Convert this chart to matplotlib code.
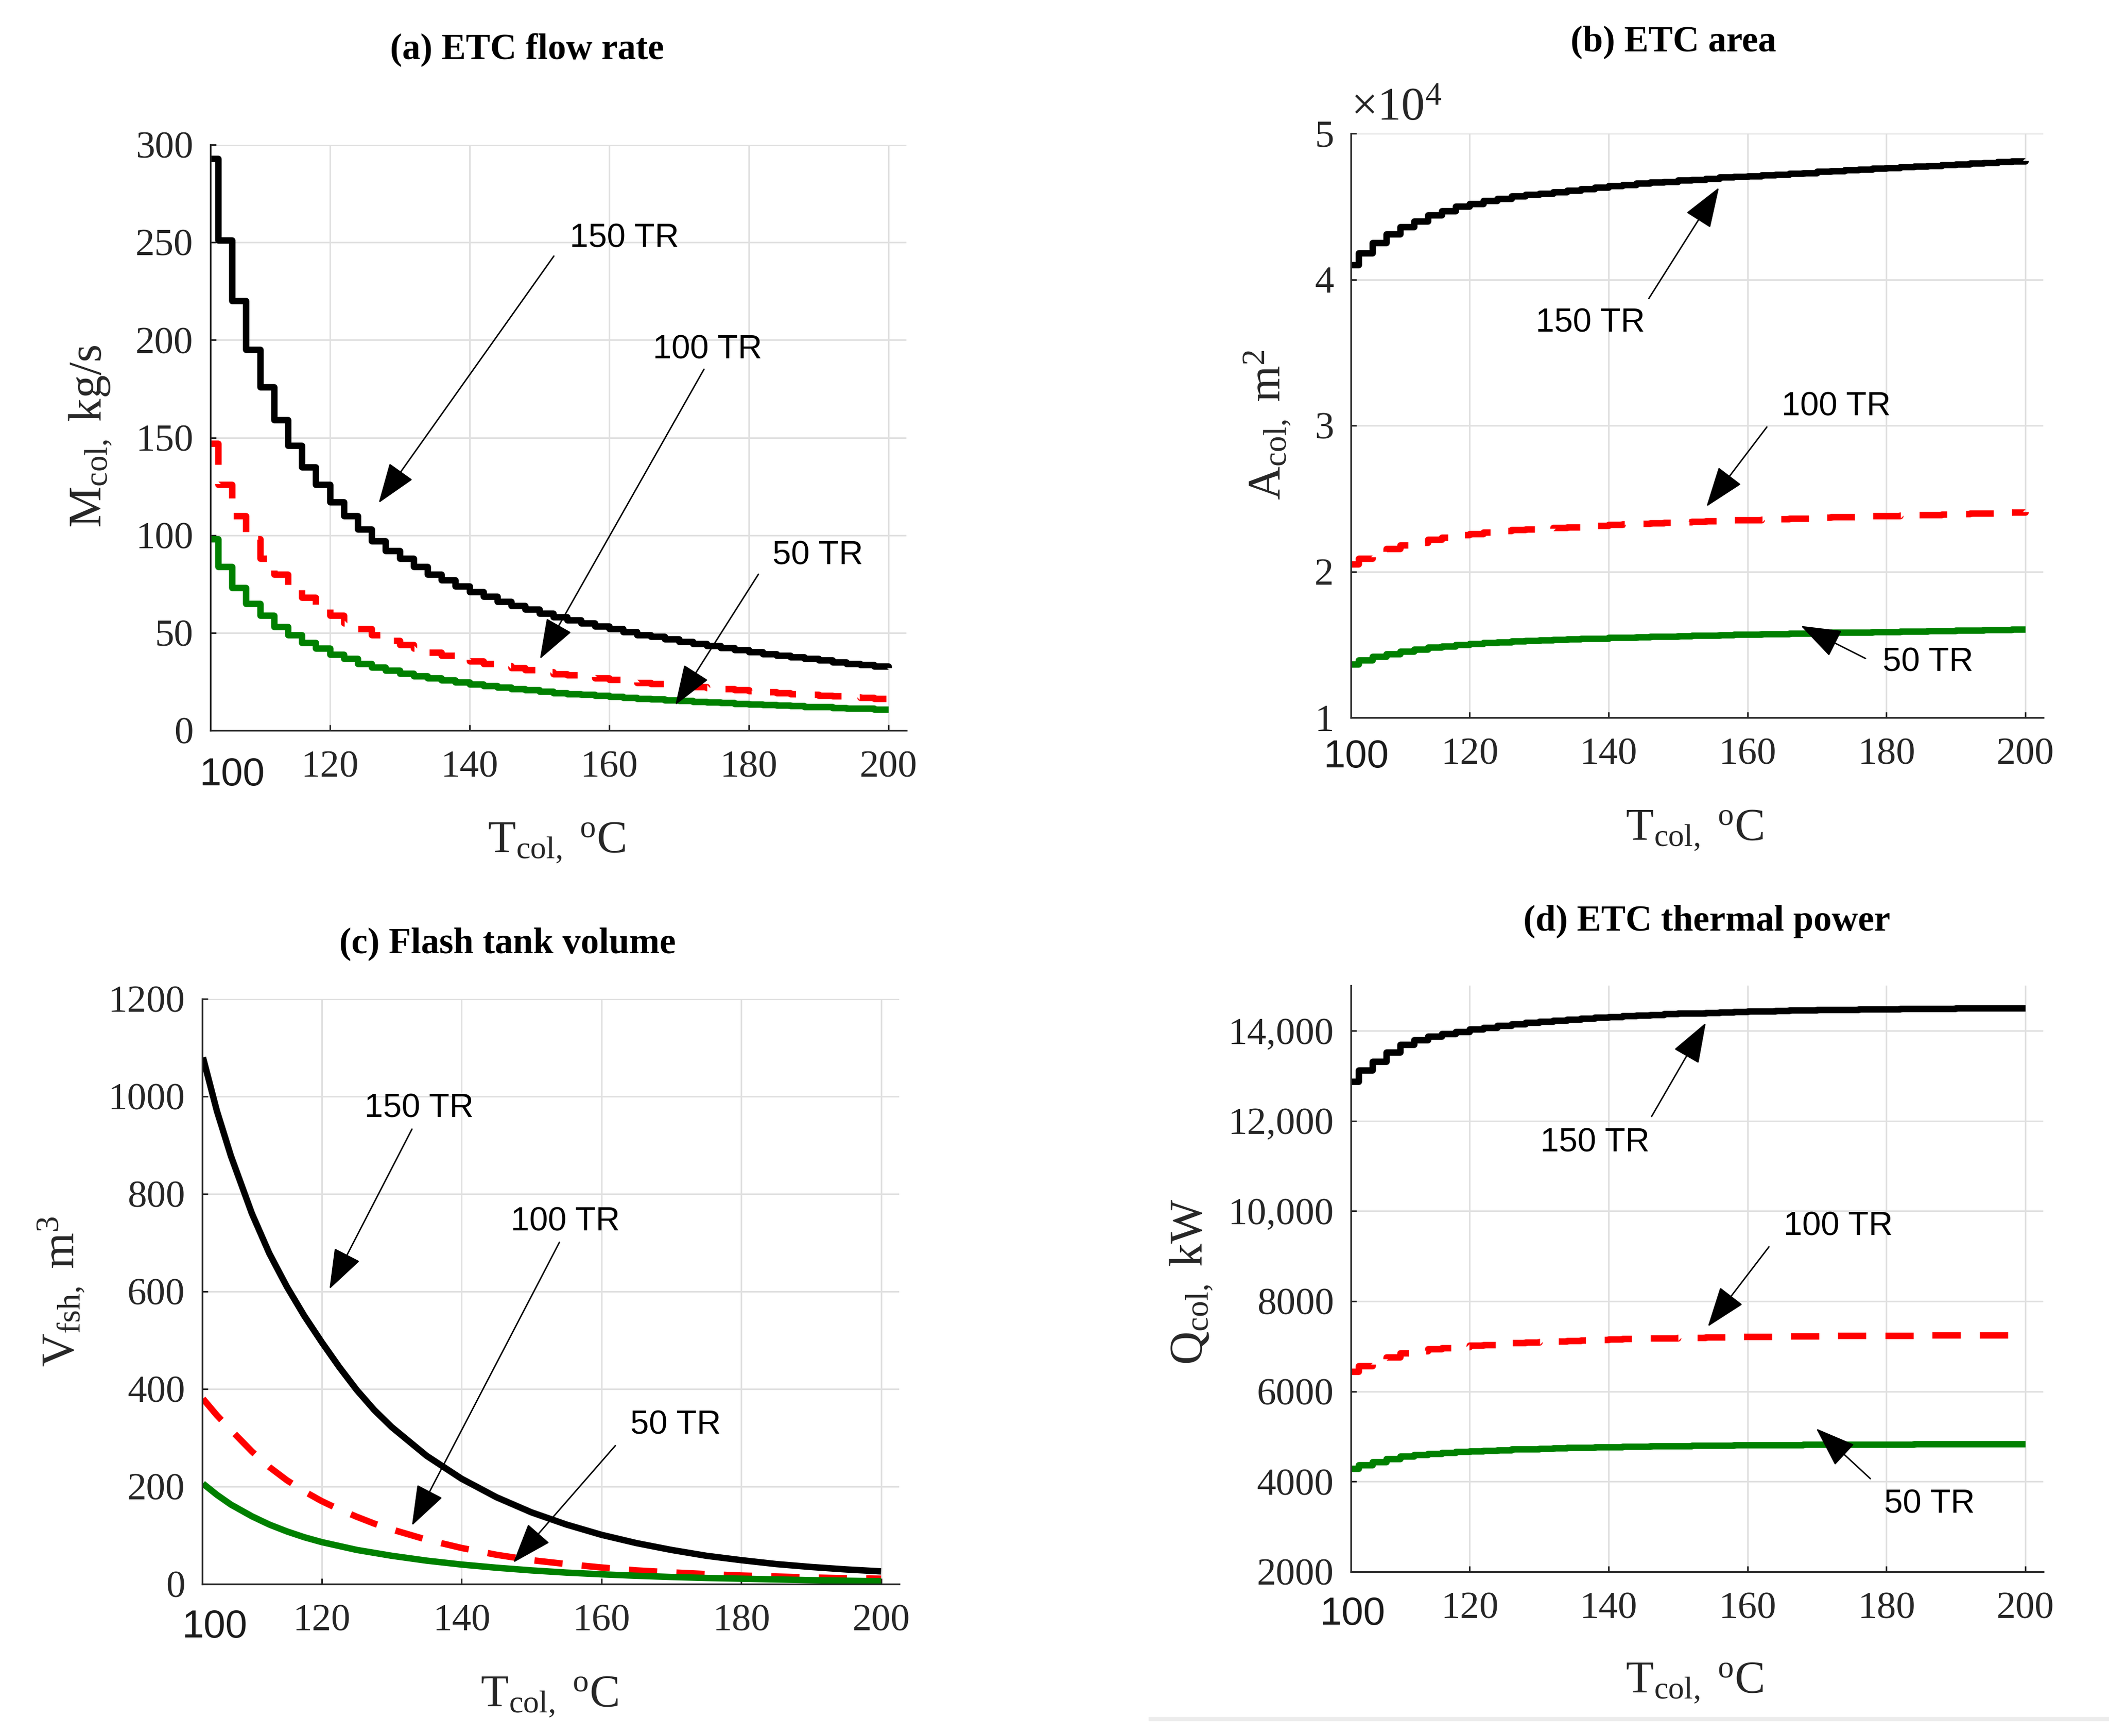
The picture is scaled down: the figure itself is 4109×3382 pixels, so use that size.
import matplotlib
matplotlib.use('Agg')
import matplotlib.pyplot as plt
from matplotlib.lines import Line2D

plt.rcParams['font.family'] = ['Liberation Serif', 'DejaVu Serif']
plt.rcParams['mathtext.fontset'] = 'custom'
plt.rcParams['mathtext.rm'] = 'Liberation Serif'
plt.rcParams['mathtext.it'] = 'Liberation Serif:italic'
plt.rcParams['mathtext.bf'] = 'Liberation Serif:bold'

# ---------------- data ----------------
T_step = [103] + list(range(104, 201, 2))          # stepped panels (a), (b), (d)
T_smooth = [103, 105, 107, 110, 112.5, 115, 117.5, 120, 122.5, 125, 127.5, 130,
            135, 140, 145, 150, 155, 160, 165, 170, 175, 180, 185, 190, 195, 200]

series_labels = ['150 TR', '100 TR', '50 TR']

# (a) ETC flow rate, kg/s
M_150 = [293, 251, 220, 195, 176, 159, 146, 135, 126, 117,
         110, 103, 97, 92, 88, 84, 80, 77, 74, 71,
         68.5, 66, 64, 62, 60, 58, 56.5, 55, 53.5, 52,
         50.5, 49, 48, 46.8, 45.6, 44.5, 43.4, 42.4, 41.4, 40.3,
         39.3, 38.4, 37.5, 36.7, 35.9, 35.1, 34.3, 33.6, 32.8, 32]
M_100 = [147, 126, 110, 98, 88, 80, 73, 68, 63, 59,
         55, 52, 49, 46, 44, 42, 40, 38.5, 37, 35.5,
         34.3, 33, 32, 31, 30, 29, 28.3, 27.5, 26.8, 26,
         25.3, 24.5, 24, 23.4, 22.8, 22.3, 21.7, 21.2, 20.7, 20.2,
         19.7, 19.2, 18.8, 18.4, 18, 17.6, 17.2, 16.8, 16.4, 16]
M_50 = [98, 84, 73, 65, 59, 53, 49, 45, 42, 39,
        36.7, 34.3, 32.3, 30.7, 29.3, 28, 26.7, 25.7, 24.7, 23.7,
        22.8, 22, 21.3, 20.7, 20, 19.3, 18.8, 18.3, 17.8, 17.3,
        16.8, 16.3, 16, 15.6, 15.2, 14.8, 14.5, 14.1, 13.8, 13.4,
        13.1, 12.8, 12.5, 12.2, 12, 11.7, 11.4, 11.2, 10.9, 10.7]

# (b) ETC area, x1e4 m^2
A_150 = [4.10, 4.18, 4.25, 4.31, 4.36, 4.40, 4.44, 4.47, 4.50, 4.52,
         4.54, 4.555, 4.57, 4.58, 4.59, 4.60, 4.61, 4.62, 4.63, 4.64,
         4.65, 4.66, 4.665, 4.67, 4.68, 4.685, 4.69, 4.70, 4.705, 4.71,
         4.715, 4.72, 4.725, 4.73, 4.74, 4.745, 4.75, 4.755, 4.76, 4.765,
         4.77, 4.775, 4.78, 4.785, 4.79, 4.795, 4.80, 4.805, 4.81, 4.815]
A_100 = [2.05, 2.09, 2.125, 2.155, 2.18, 2.20, 2.22, 2.235, 2.25, 2.26,
         2.27, 2.278, 2.285, 2.29, 2.295, 2.30, 2.305, 2.31, 2.315, 2.32,
         2.325, 2.33, 2.333, 2.335, 2.34, 2.343, 2.345, 2.35, 2.353, 2.355,
         2.358, 2.36, 2.363, 2.365, 2.37, 2.373, 2.375, 2.378, 2.38, 2.383,
         2.385, 2.388, 2.39, 2.393, 2.395, 2.398, 2.40, 2.403, 2.405, 2.408]
A_50 = [1.367, 1.393, 1.417, 1.437, 1.453, 1.467, 1.48, 1.49, 1.50, 1.507,
        1.513, 1.518, 1.523, 1.527, 1.53, 1.533, 1.537, 1.54, 1.543, 1.547,
        1.55, 1.553, 1.555, 1.557, 1.56, 1.562, 1.563, 1.567, 1.568, 1.57,
        1.572, 1.573, 1.575, 1.577, 1.58, 1.582, 1.583, 1.585, 1.587, 1.588,
        1.59, 1.592, 1.593, 1.595, 1.597, 1.598, 1.60, 1.602, 1.603, 1.605]

# (c) Flash tank volume, m^3
V_150 = [1080, 970, 878, 760, 678, 610, 550, 496, 445, 398, 357, 322,
         263, 216, 178, 147, 122, 101, 84, 70, 58, 49, 41, 35, 30, 26]
V_100 = [380, 346, 316, 272, 240, 213, 190, 170, 153, 138, 124, 112,
         91, 74, 60, 49, 41, 34, 28, 24, 20.5, 17.5, 15.5, 13.5, 12, 11]
V_50 = [206, 183, 163, 139, 122, 108, 96, 86, 78, 70, 64, 58,
        48, 40, 33.5, 28, 23.5, 20, 17, 14.5, 12.5, 11, 9.5, 8, 6.8, 5.8]

# (d) ETC thermal power, kW
Q_150 = [12870, 13120, 13310, 13520, 13690, 13790, 13870, 13930, 13980, 14030,
         14070, 14110, 14145, 14175, 14200, 14225, 14250, 14270, 14290, 14310,
         14325, 14340, 14355, 14370, 14380, 14390, 14400, 14410, 14420, 14430,
         14436, 14442, 14448, 14454, 14460, 14465, 14470, 14474, 14478, 14481,
         14484, 14487, 14490, 14492, 14494, 14496, 14497, 14498, 14499, 14500]
Q_100 = [6435, 6560, 6655, 6760, 6845, 6895, 6935, 6965, 6990, 7015,
         7035, 7055, 7073, 7088, 7100, 7113, 7125, 7135, 7145, 7155,
         7163, 7170, 7178, 7185, 7190, 7195, 7200, 7205, 7210, 7215,
         7218, 7221, 7224, 7227, 7230, 7233, 7235, 7237, 7239, 7241,
         7242, 7244, 7245, 7246, 7247, 7248, 7249, 7249, 7250, 7250]
Q_50 = [4290, 4373, 4437, 4507, 4563, 4597, 4623, 4643, 4660, 4677,
        4690, 4703, 4715, 4725, 4733, 4742, 4750, 4757, 4763, 4770,
        4775, 4780, 4785, 4790, 4793, 4797, 4800, 4803, 4807, 4810,
        4812, 4814, 4816, 4818, 4820, 4822, 4823, 4825, 4826, 4827,
        4828, 4829, 4830, 4831, 4831, 4832, 4832, 4833, 4833, 4833]

x_ticks = [120, 140, 160, 180, 200]
yticks_a = [0, 50, 100, 150, 200, 250, 300]
yticks_b = [1, 2, 3, 4, 5]
yticks_c = [0, 200, 400, 600, 800, 1000, 1200]
yticks_d = [2000, 4000, 6000, 8000, 10000, 12000, 14000]
yticklabels_d = ['2000', '4000', '6000', '8000', '10,000', '12,000', '14,000']

titles = ['(a) ETC flow rate', '(b) ETC area', '(c) Flash tank volume', '(d) ETC thermal power']

# ---------------- figure ----------------
W, H = 4109, 3382
fig = plt.figure(figsize=(W / 100, H / 100), dpi=100)

TXT = '#262626'
SANS = ['Liberation Sans', 'DejaVu Sans']
styles = [dict(color='black', lw=9, solid_capstyle='butt'),
          dict(color='#ff0000', lw=9, linestyle=(0, (4.4, 3.0))),
          dict(color='#008000', lw=9, solid_capstyle='butt')]


def make_axes(rect, ylim, yticks, yticklabels=None):
    ax = fig.add_axes(rect)
    ax.set_xlim(102.9, 202.6)
    ax.set_ylim(*ylim)
    ax.set_xticks(x_ticks)
    ax.set_yticks(yticks)
    if yticklabels is not None:
        ax.set_yticklabels(yticklabels)
    ax.grid(True, color='#e0e0e0', lw=2.2)
    ax.set_axisbelow(True)
    for s in ['top', 'right']:
        ax.spines[s].set_visible(False)
    for s in ['left', 'bottom']:
        ax.spines[s].set_color(TXT)
        ax.spines[s].set_linewidth(2.4)
    ax.tick_params(direction='in', length=8, width=2.2, color=TXT,
                   labelsize=54, labelcolor=TXT)
    ax.tick_params(axis='x', pad=28)
    ax.tick_params(axis='y', pad=24)
    return ax


def note(ax, label, text_xy, start_xy, tip_xy):
    ax.text(text_xy[0], text_xy[1], label, family=SANS, fontsize=47,
            ha='center', va='center', color='black', zorder=6)
    ax.annotate('', xy=tip_xy, xytext=start_xy,
                arrowprops=dict(arrowstyle='-|>,head_length=0.5,head_width=0.18',
                                lw=2, color='black', shrinkA=0, shrinkB=0,
                                mutation_scale=100), zorder=6)


def hundred(ax, xf, yf):
    ax.text(xf, yf, '100', transform=ax.transAxes, family=SANS, fontsize=55,
            ha='center', va='center', color='#1a1a1a')


# (a)
axa = make_axes([0.09978, 0.57924, 0.3300, 0.33738], (0, 300), yticks_a)
for y, st in zip([M_150, M_100, M_50], styles):
    axa.plot(T_step, y, drawstyle='steps-post', **st)
note(axa, series_labels[0], (162.2, 252), (152.1, 243), (127.0, 116.5))
note(axa, series_labels[1], (174.1, 195), (173.6, 185), (150.1, 36.6))
note(axa, series_labels[2], (189.9, 89.4), (181.4, 80), (169.5, 13))
hundred(axa, 0.031, -0.0763)

# (b)
axb = make_axes([0.64054, 0.58663, 0.32830, 0.33649], (1, 5), yticks_b)
for y, st in zip([A_150, A_100, A_50], styles):
    axb.plot(T_step, y, drawstyle='steps-post', **st)
note(axb, series_labels[0], (137.4, 3.70), (145.8, 3.87), (155.9, 4.63))
note(axb, series_labels[1], (172.8, 3.13), (162.8, 2.99), (154.1, 2.445))
note(axb, series_labels[2], (186.0, 1.378), (177.0, 1.405), (167.7, 1.628))
hundred(axb, 0.0074, -0.0677)
axb.text(0.0, 1.042, r'$\times\mathrm{10^{4}}$', transform=axb.transAxes,
         fontsize=66, ha='left', va='center', color=TXT)

# (c)
axc = make_axes([0.09589, 0.08752, 0.33049, 0.33708], (0, 1200), yticks_c)
for y, st in zip([V_150, V_100, V_50], styles):
    axc.plot(T_smooth, y, **st)
note(axc, series_labels[0], (133.9, 975), (132.9, 933), (121.1, 605))
note(axc, series_labels[1], (154.8, 743), (154.0, 701), (132.9, 120))
note(axc, series_labels[2], (170.6, 326), (162.0, 284), (147.4, 44))
hundred(axc, 0.0177, -0.0737)

# (d)
axd = make_axes([0.64054, 0.09462, 0.32830, 0.33767], (2000, 15000), yticks_d, yticklabels_d)
for y, st in zip([Q_150, Q_100, Q_50], styles):
    axd.plot(T_step, y, drawstyle='steps-post', **st)
note(axd, series_labels[0], (138.0, 11516), (146.2, 12097), (154.0, 14173))
note(axd, series_labels[1], (173.1, 9650), (163.1, 9205), (154.3, 7437))
note(axd, series_labels[2], (186.2, 3495), (177.7, 4064), (169.9, 5176))
hundred(axd, 0.0022, -0.0727)

# titles
for (x, y), t in zip([(0.2499, 0.97132), (0.7934, 0.97575), (0.2407, 0.45624), (0.8094, 0.46925)], titles):
    fig.text(x, y, t, fontsize=51, fontweight='bold', ha='center', va='center', color='black')

# axis labels
xl = r'$\mathrm{T_{col,}}\ {}^{\mathrm{o}}\mathrm{C}$'
for (x, y) in [(0.26405, 0.51449), (0.80360, 0.52159), (0.26065, 0.02247), (0.80360, 0.03046)]:
    fig.text(x, y, xl, fontsize=64, ha='center', va='center', color=TXT)
ylabels = [r'$\mathrm{M_{col,}\ kg/s}$', r'$\mathrm{A_{col,}\ m^{2}}$',
           r'$\mathrm{V_{fsh,}\ m^{3}}$', r'$\mathrm{Q_{col,}\ kW}$']
for (x, y), t in zip([(0.04283, 0.74867), (0.60088, 0.75518), (0.02896, 0.25606), (0.56486, 0.26168)], ylabels):
    fig.text(x, y, t, fontsize=65, ha='center', va='center', rotation=90, color=TXT)

# faint rule at bottom right
fig.add_artist(Line2D([2242 / W, 1.0], [1 - 3349 / H, 1 - 3349 / H], color='#ececec', lw=6))

fig.savefig('out.png', dpi=100, facecolor='white')
